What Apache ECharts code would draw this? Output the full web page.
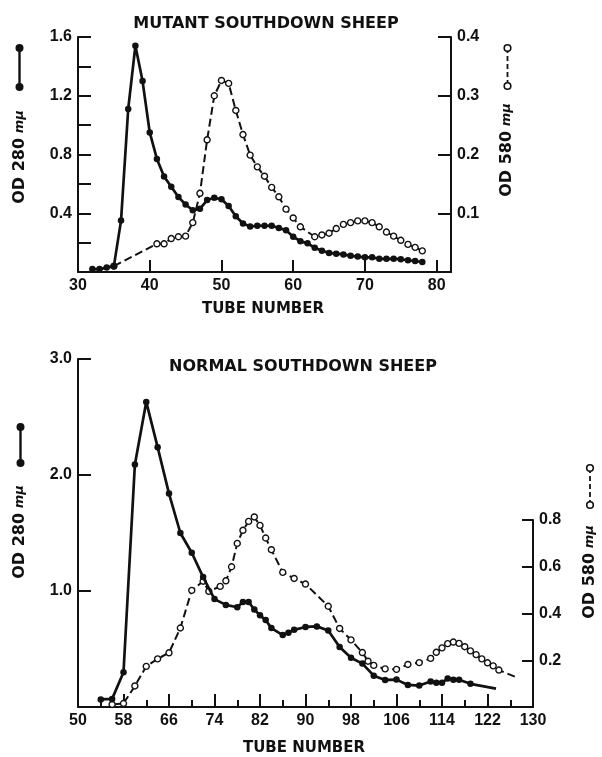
<!DOCTYPE html>
<html>
<head>
<meta charset="utf-8">
<script src="https://cdn.jsdelivr.net/npm/echarts@6/dist/echarts.min.js"></script>
<style>
html,body{margin:0;padding:0;background:#fff;}
#chart{width:602px;height:757px;}
</style>
</head>
<body>
<div id="chart"></div>
<script>
// ---- Mutant Southdown sheep ----
const mutantTube280 = [32,33,34,35,36,37,38,39,40,41,42,43,44,45,46,47,48,49,50,51,52,53,54,55,56,57,58,59,60,61,62,63,64,65,66,67,68,69,70,71,72,73,74,75,76,77,78];
const mutantOD280 = [0.02,0.02,0.03,0.04,0.35,1.11,1.54,1.30,0.95,0.77,0.65,0.58,0.51,0.46,0.42,0.43,0.49,0.505,0.495,0.45,0.38,0.33,0.31,0.315,0.315,0.315,0.30,0.285,0.24,0.21,0.195,0.165,0.145,0.13,0.125,0.12,0.11,0.105,0.10,0.10,0.09,0.09,0.09,0.087,0.08,0.075,0.068];
const mutantTube580 = [35,41,42,43,44,45,46,47,48,49,50,51,52,53,54,55,56,57,58,59,60,61,63,64,65,66,67,68,69,70,71,72,73,74,75,76,77,78];
const mutantOD580 = [0.01,0.048,0.048,0.057,0.060,0.061,0.084,0.134,0.225,0.300,0.326,0.321,0.275,0.234,0.199,0.179,0.163,0.144,0.128,0.107,0.092,0.077,0.060,0.063,0.066,0.074,0.081,0.084,0.087,0.087,0.084,0.077,0.068,0.061,0.054,0.047,0.042,0.036];
const mutantXTicks = [30,40,50,60,70,80];
const mutant280Ticks = [0.2,0.4,0.6,0.8,1.0,1.2,1.4,1.6];
const mutant280Labels = [0.4,0.8,1.2,1.6];
const mutant580Ticks = [0.1,0.2,0.3,0.4];

// ---- Normal Southdown sheep ----
const normalTube280 = [54,56,58,60,62,64,66,68,70,72,74,76,78,79,80,81,82,83,84,86,87,88,90,92,94,96,98,100,102,104,106,108,110,112,113,114,115,116,117,119,123.5];
const normalOD280 = [0.065,0.07,0.30,2.09,2.63,2.24,1.84,1.50,1.33,1.12,0.93,0.88,0.86,0.905,0.905,0.84,0.79,0.75,0.68,0.62,0.64,0.665,0.69,0.695,0.66,0.517,0.425,0.374,0.27,0.233,0.236,0.19,0.185,0.22,0.21,0.21,0.245,0.235,0.235,0.20,0.158];
const normalTube580 = [56,58,60,62,64,66,68,70,72,73,75,76,77,78,79,80,81,82,83,84,86,88,90,94,96,98,100,101,102,104,106,108,110,112,113,114,115,116,117,118,119,120,121,122,123,124,127.3];
const normalOD580 = [0.011,0.015,0.09,0.174,0.206,0.232,0.338,0.499,0.538,0.495,0.516,0.54,0.60,0.70,0.756,0.794,0.813,0.777,0.723,0.673,0.576,0.55,0.526,0.431,0.336,0.287,0.233,0.196,0.178,0.163,0.161,0.182,0.19,0.208,0.234,0.253,0.271,0.278,0.272,0.258,0.24,0.224,0.206,0.189,0.176,0.158,0.125];
const normalXLabels = [50,58,66,74,82,90,98,106,114,122,130];
const normalXMinor = [54,62,70,78,86,94,102,110,118,126];
const normal280Ticks = [1.0,2.0,3.0];
const normal580Ticks = [0.2,0.4,0.6,0.8];

const INK = '#111';
const NUMFONT = 'Liberation Sans';
const TXTFONT = 'DejaVu Sans';

function pairs(xs, ys, lastBare) {
  return xs.map((x, i) => {
    const item = { value: [x, ys[i]] };
    if (lastBare && i === xs.length - 1) item.symbol = 'none';
    return item;
  });
}

const numLabel = (extra) => Object.assign({
  color: INK, fontFamily: NUMFONT, fontSize: 16, fontWeight: 'bold', margin: 6
}, extra || {});

function xAxisCfg(grid, min, max, ticks, labels, tickLen, showLine) {
  return {
    type: 'value', gridIndex: grid, min: min, max: max, position: 'bottom',
    axisLine: { show: showLine, onZero: false, lineStyle: { color: INK, width: 2 } },
    axisTick: { show: true, inside: true, length: tickLen, customValues: ticks, lineStyle: { color: INK, width: 2 } },
    axisLabel: labels ? numLabel({ customValues: labels, formatter: v => String(v) }) : { show: false },
    splitLine: { show: false }
  };
}
function yAxisCfg(grid, pos, min, max, ticks, labels, tickLen) {
  return {
    type: 'value', gridIndex: grid, position: pos, min: min, max: max,
    axisLine: { show: true, onZero: false, lineStyle: { color: INK, width: 2 } },
    axisTick: { show: true, inside: true, length: tickLen, customValues: ticks, lineStyle: { color: INK, width: 2 } },
    axisLabel: numLabel({ customValues: labels, formatter: v => v.toFixed(1) }),
    splitLine: { show: false }
  };
}

const filledStyle = (size) => ({
  type: 'line', symbol: 'circle', symbolSize: size,
  itemStyle: { color: INK },
  lineStyle: { color: INK, width: 2.7 },
  emphasis: { disabled: true }, z: 4
});
const openStyle = () => ({
  type: 'line', symbol: 'circle', symbolSize: 6,
  itemStyle: { color: '#fff', borderColor: INK, borderWidth: 1.4 },
  lineStyle: { color: INK, width: 2, type: [8, 4] },
  emphasis: { disabled: true }, z: 3
});

function vText(x, y, txt) {
  return {
    type: 'text', x: x, y: y, rotation: Math.PI / 2,
    style: {
      text: txt + '{m| mμ}', fill: INK, fontFamily: TXTFONT, fontSize: 16, fontWeight: 'bold',
      align: 'center', verticalAlign: 'middle',
      rich: { m: { fontSize: 13, fontStyle: 'italic', fontWeight: 'bold', fontFamily: TXTFONT, fill: INK } }
    }
  };
}
function legendGlyph(x, y1, y2, open) {
  const items = [{
    type: 'line', shape: { x1: x, y1: y1, x2: x, y2: y2 },
    style: { stroke: INK, lineWidth: open ? 1.8 : 2.4, lineDash: open ? [5, 3] : null }
  }];
  [y1, y2].forEach(y => items.push({
    type: 'circle', shape: { cx: x, cy: y, r: open ? 3.3 : 4 },
    style: open ? { fill: '#fff', stroke: INK, lineWidth: 1.6 } : { fill: INK }
  }));
  return items;
}
function hText(x, y, txt, size) {
  return {
    type: 'text', x: x, y: y,
    style: { text: txt, fill: INK, fontFamily: TXTFONT, fontSize: size, fontWeight: 'bold', align: 'center', verticalAlign: 'middle' }
  };
}

const option = {
  animation: false,
  backgroundColor: '#fff',
  grid: [
    { left: 78, top: 37, width: 373, height: 235 },
    { left: 78, top: 359, width: 455, height: 348 },
    { left: 78, top: 520, width: 455, height: 187 }
  ],
  xAxis: [
    xAxisCfg(0, 30, 82, mutantXTicks, mutantXTicks, 12, true),
    xAxisCfg(1, 50, 130, normalXLabels, normalXLabels, 13, true),
    xAxisCfg(1, 50, 130, normalXMinor, null, 7, false),
    Object.assign(xAxisCfg(2, 50, 130, [], null, 0, false), { show: false })
  ],
  yAxis: [
    yAxisCfg(0, 'left', 0, 1.6, mutant280Ticks, mutant280Labels, 13),
    yAxisCfg(0, 'right', 0, 0.4, mutant580Ticks, mutant580Ticks, 13),
    yAxisCfg(1, 'left', 0, 3.0, normal280Ticks, normal280Ticks, 13),
    yAxisCfg(2, 'right', 0, 0.8, normal580Ticks, normal580Ticks, 11)
  ],
  series: [
    Object.assign(openStyle(), { xAxisIndex: 0, yAxisIndex: 1, data: pairs(mutantTube580, mutantOD580, false) }),
    Object.assign(filledStyle(6.5), { xAxisIndex: 0, yAxisIndex: 0, data: pairs(mutantTube280, mutantOD280, false) }),
    Object.assign(openStyle(), { xAxisIndex: 3, yAxisIndex: 3, clip: false, data: pairs(normalTube580, normalOD580, true) }),
    Object.assign(filledStyle(6.5), { xAxisIndex: 1, yAxisIndex: 2, data: pairs(normalTube280, normalOD280, true) })
  ],
  graphic: [
    hText(266, 24, 'MUTANT SOUTHDOWN SHEEP', 16),
    hText(263, 309, 'TUBE NUMBER', 15),
    vText(20, 157, 'OD 280'),
    vText(507, 150, 'OD 580'),
    ...legendGlyph(19.5, 48, 87, false),
    ...legendGlyph(507.5, 48, 86, true),
    hText(303, 367, 'NORMAL SOUTHDOWN SHEEP', 16),
    hText(304, 748, 'TUBE NUMBER', 15),
    vText(20, 532, 'OD 280'),
    vText(590, 572, 'OD 580'),
    ...legendGlyph(20.5, 427, 463, false),
    ...legendGlyph(590, 468, 505, true)
  ]
};

const chart = echarts.init(document.getElementById('chart'), null, { renderer: 'canvas' });
chart.setOption(option);
</script>
</body>
</html>
